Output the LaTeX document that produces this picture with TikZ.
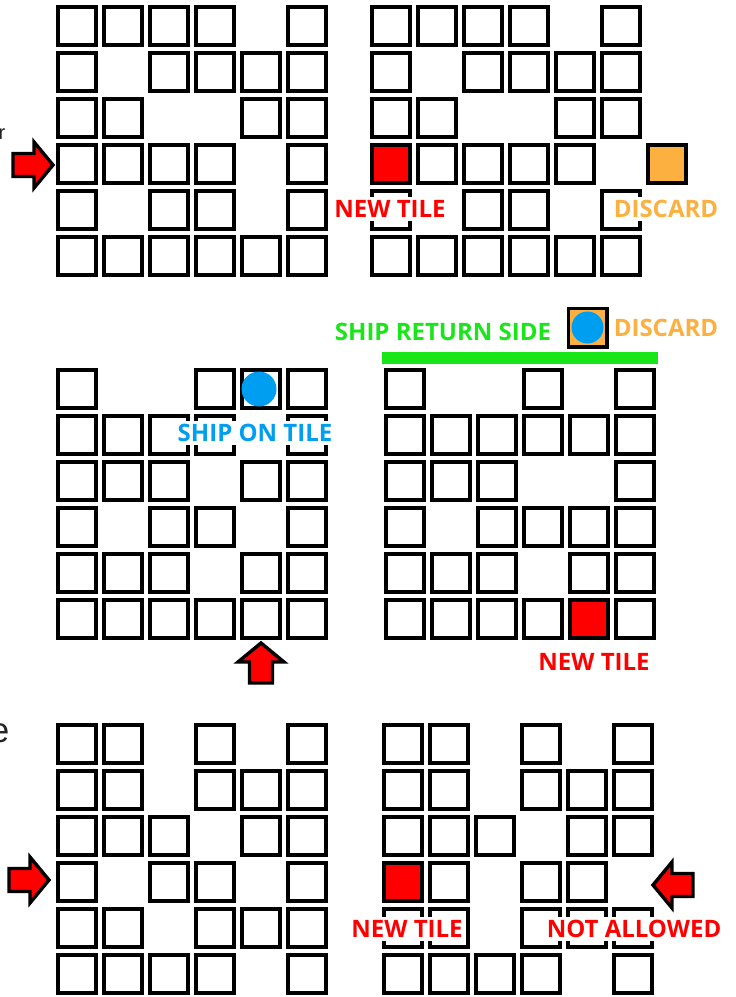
\documentclass[tikz,border=0pt]{standalone}
\usepackage{fontspec}
\setmainfont{Open Sans}
\newfontfamily\arialfont{Liberation Sans}
\definecolor{tilered}{RGB}{255,0,0}
\definecolor{discardorange}{RGB}{251,176,64}
\definecolor{shipblue}{RGB}{0,158,240}
\definecolor{returngreen}{RGB}{24,230,24}
\definecolor{fraggray}{RGB}{35,35,35}

\tikzset{
  tile/.style={draw=black, line width=3.8pt, minimum size=38.2pt, inner sep=0pt, fill=white},
  newtile/.style={tile, fill=tilered},
  discardtile/.style={tile, fill=discardorange},
  lbl/.style={fill=white, inner xsep=3pt, inner ysep=3.5pt, text height=17.2pt, text depth=0pt,
              font=\fontsize{24}{24}\selectfont\bfseries},
  ship/.style={circle, fill=shipblue, minimum size=35pt, inner sep=0pt},
  blockarrow/.pic={\draw[fill=tilered, line width=3.4pt, line join=miter]
      (0,0) -- (-19,-23) -- (-19,-11.5) -- (-40,-11.5) -- (-40,11.5) -- (-19,11.5) -- (-19,23) -- cycle;},
}

% #1 name prefix, #2 x of col-1 centre, #3 y of row-1 centre, #4 rows (0 none, 1 tile, 2 new tile)
\newcommand\tilegrid[4]{%
  \foreach \rowlist [count=\r] in {#4}{%
    \foreach \v [count=\k] in \rowlist {%
      \ifnum\v=1 \node[tile] (#1-\r-\k) at ({#2+46*(\k-1)},{#3+46*(\r-1)}) {};\fi
      \ifnum\v=2 \node[newtile] (#1-\r-\k) at ({#2+46*(\k-1)},{#3+46*(\r-1)}) {};\fi
    }%
  }%
}

\begin{document}
\begin{tikzpicture}[x=1pt,y=-1pt]
\useasboundingbox (0,0) rectangle (736,997);
\clip (0,0) rectangle (736,997);

% cropped text fragments at the left edge
\node[anchor=base west, inner sep=0pt, text=fraggray, font=\arialfont\fontsize{20}{20}\selectfont] (fragr) at (-1.5,139) {r};
\node[anchor=base east, inner sep=0pt, text=fraggray, font=\arialfont\fontsize{35}{35}\selectfont] (frage) at (9.5,742) {e};

% ---------- top row ----------
\tilegrid{tl}{77}{26}{{1,1,1,1,0,1},{1,0,1,1,1,1},{1,1,0,0,1,1},{1,1,1,1,0,1},{1,0,1,1,0,1},{1,1,1,1,1,1}}
\tilegrid{tr}{391}{26}{{1,1,1,1,0,1},{1,0,1,1,1,1},{1,1,0,0,1,1},{2,1,1,1,1,0},{1,0,1,1,0,1},{1,1,1,1,1,1}}
\node[discardtile] (discard1) at (667,164) {};
\pic at (53,165) {blockarrow};
\node[lbl, text=tilered] (newtile1) at (390,209) {NEW TILE};
\node[lbl, text=discardorange] (discardlbl1) at (666,209) {DISCARD};

% ---------- middle row ----------
\tilegrid{ml}{77}{389}{{1,0,0,1,1,1},{1,1,1,1,0,1},{1,1,1,0,1,1},{1,0,1,1,0,1},{1,1,1,0,1,1},{1,1,1,1,1,1}}
\node[ship] (ship1) at (259,389) {};
\node[lbl, text=shipblue] (shiplbl) at (255,433) {SHIP ON TILE};
\pic[rotate=90] at (261,643) {blockarrow};

\tilegrid{mr}{405}{389}{{1,0,0,1,0,1},{1,1,1,1,1,1},{1,1,1,0,0,1},{1,0,1,1,1,1},{1,1,1,0,1,1},{1,1,1,1,2,1}}
\fill[returngreen] (382,352) rectangle (658,364);
\node[text=returngreen, inner sep=0pt, font=\fontsize{24}{24}\selectfont\bfseries] (returnlbl) at (443,332) {SHIP RETURN SIDE};
\node[discardtile] (discard2) at (587.5,327.5) {};
\node[ship, minimum size=32pt] (ship2) at (587.5,327.5) {};
\node[lbl, text=discardorange, fill=none] (discardlbl2) at (666,328) {DISCARD};
\node[lbl, text=tilered, fill=none] (newtile2) at (594,662) {NEW TILE};

% ---------- bottom row ----------
\tilegrid{bl}{77}{744}{{1,1,0,1,0,1},{1,1,0,1,1,1},{1,1,1,0,1,1},{1,0,1,1,0,1},{1,1,0,1,1,1},{1,1,1,1,0,1}}
\pic at (49,880) {blockarrow};

\tilegrid{br}{403}{744}{{1,1,0,1,0,1},{1,1,0,1,1,1},{1,1,1,0,1,1},{2,1,0,1,1,0},{1,1,0,1,1,1},{1,1,1,1,0,1}}
\pic[rotate=180] at (653,885) {blockarrow};
\node[lbl, text=tilered] (newtile3) at (407,929) {NEW TILE};
\node[lbl, text=tilered] (notallowed) at (634,929) {NOT ALLOWED};
\end{tikzpicture}
\end{document}
